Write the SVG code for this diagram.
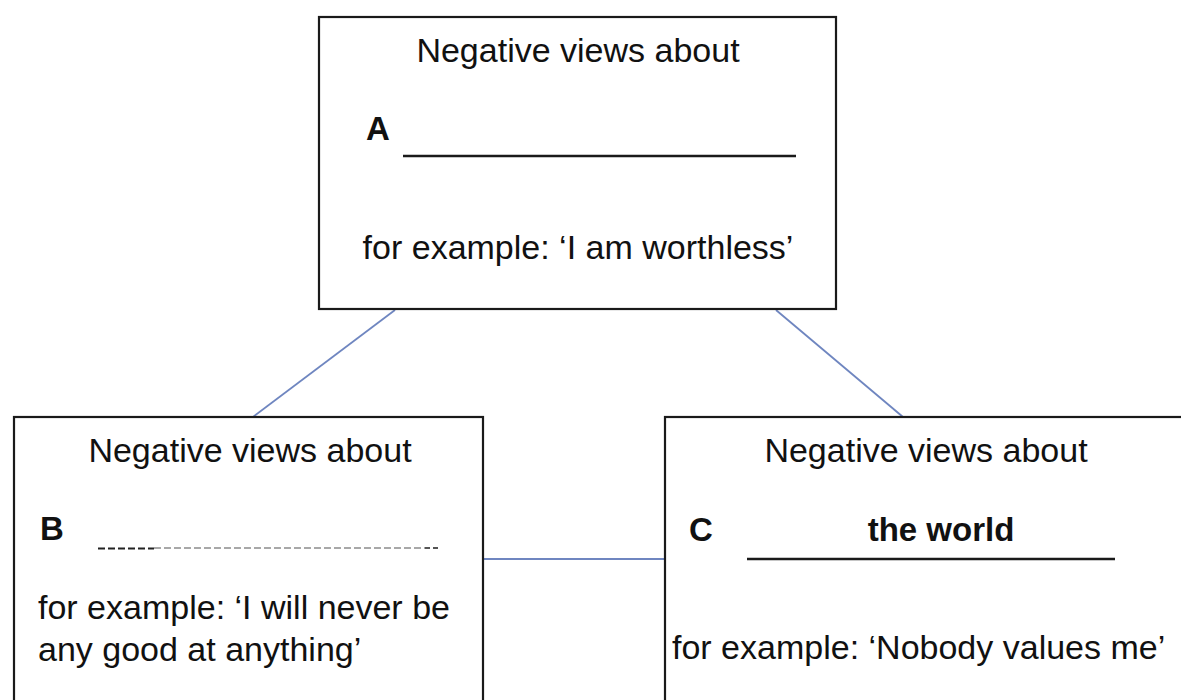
<svg xmlns="http://www.w3.org/2000/svg" width="1181" height="700" viewBox="0 0 1181 700">
<style>
.box{fill:#fff;stroke:#1a1a1a;stroke-width:2.2}
.t{font-family:"Liberation Sans",Arial,sans-serif;font-size:34px;fill:#111}
.c{text-anchor:middle}
.b{font-weight:bold;font-size:33px}
.ul{stroke:#1a1a1a;stroke-width:2.4}
.conn{stroke:#6f86c0;stroke-width:1.8;fill:none}
</style>
<rect width="1181" height="700" fill="#fff"/>
<g id="connectors">
<line class="conn" x1="395" y1="310" x2="253" y2="417"/>
<line class="conn" x1="776" y1="310" x2="903" y2="417"/>
<line class="conn" x1="483" y1="559" x2="665" y2="559"/>
</g>
<g id="nodeA">
<rect class="box" x="319" y="17" width="517" height="292"/>
<text class="t c" x="578" y="62">Negative views about</text>
<text class="t b" x="366" y="140">A</text>
<line class="ul" x1="403" y1="156" x2="796" y2="156"/>
<text class="t c" x="578" y="259">for example: ‘I am worthless’</text>
</g>
<g id="nodeB">
<rect class="box" x="14" y="417" width="469" height="300"/>
<text class="t c" x="250" y="462">Negative views about</text>
<text class="t b" x="40" y="540">B</text>
<line x1="98" y1="548.5" x2="154" y2="548.5" stroke="#222" stroke-width="2" stroke-dasharray="7,3"/>
<line x1="154" y1="548" x2="425" y2="548" stroke="#a8a8a8" stroke-width="2" stroke-dasharray="7,3"/>
<line x1="425" y1="548" x2="440" y2="548" stroke="#555" stroke-width="2" stroke-dasharray="5,3"/>
<text class="t" x="38" y="619">for example: ‘I will never be</text>
<text class="t" x="38" y="661">any good at anything’</text>
</g>
<g id="nodeC">
<rect class="box" x="665" y="417" width="530" height="300"/>
<text class="t c" x="926" y="462">Negative views about</text>
<text class="t b" x="689" y="541">C</text>
<text class="t b c" x="941" y="541">the world</text>
<line class="ul" x1="747" y1="559" x2="1115" y2="559"/>
<text class="t" x="672" y="659">for example: ‘Nobody values me’</text>
</g>
</svg>
